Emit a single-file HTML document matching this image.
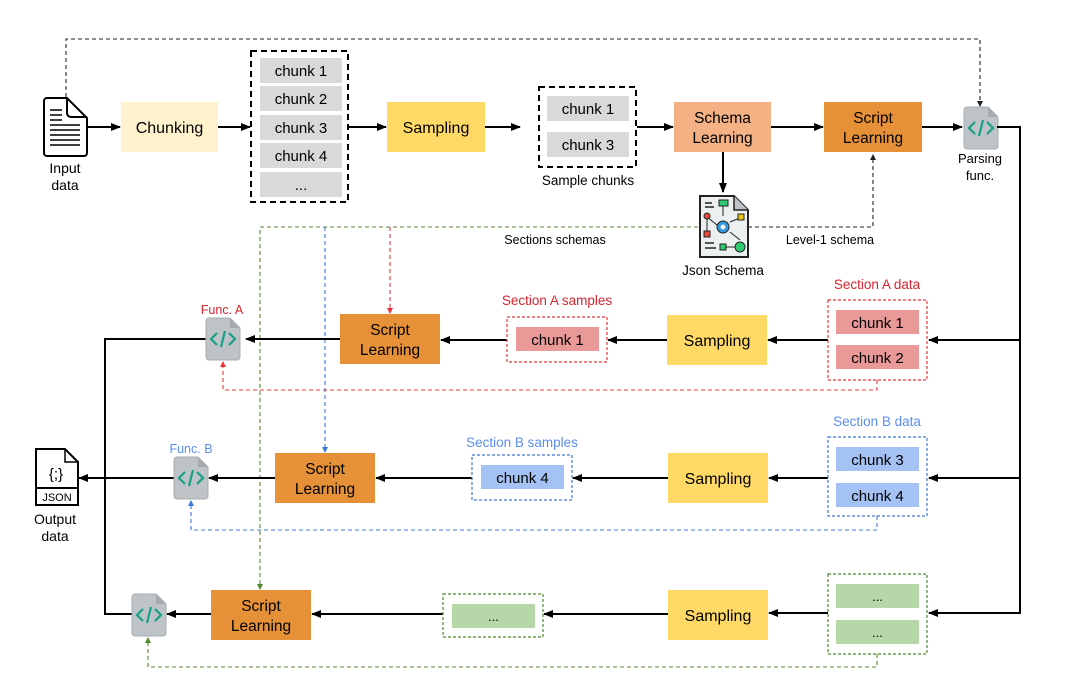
<!DOCTYPE html>
<html><head><meta charset="utf-8"><style>
html,body{margin:0;padding:0;background:#fff}
svg{display:block}
text{font-family:"Liberation Sans",Arial,sans-serif}
</style></head><body>
<svg width="1076" height="699" viewBox="0 0 1076 699" xmlns="http://www.w3.org/2000/svg">
<defs>
<marker id="ab" markerWidth="10" markerHeight="8" refX="9" refY="4" orient="auto" markerUnits="userSpaceOnUse"><path d="M0,0 L10,4 L0,8 Z" fill="#000"/></marker>
<marker id="as" markerWidth="6" markerHeight="6" refX="5" refY="3" orient="auto" markerUnits="userSpaceOnUse"><path d="M0,0 L6,3 L0,6 Z" fill="#222"/></marker>
<marker id="ar" markerWidth="6" markerHeight="6" refX="5" refY="3" orient="auto" markerUnits="userSpaceOnUse"><path d="M0,0 L6,3 L0,6 Z" fill="#E8383D"/></marker>
<marker id="abl" markerWidth="6" markerHeight="6" refX="5" refY="3" orient="auto" markerUnits="userSpaceOnUse"><path d="M0,0 L6,3 L0,6 Z" fill="#3C78D8"/></marker>
<marker id="ag" markerWidth="6" markerHeight="6" refX="5" refY="3" orient="auto" markerUnits="userSpaceOnUse"><path d="M0,0 L6,3 L0,6 Z" fill="#4E8A2E"/></marker>
<g id="code">
<path d="M3,0 H24 L34,10 V39 a3,3 0 0 1 -3,3 H3 a3,3 0 0 1 -3,-3 V3 a3,3 0 0 1 3,-3 Z" fill="#BDC3C7" stroke="#A8AEB2" stroke-width="1"/>
<path d="M24,0 V10 H34 Z" fill="#A5ABAF"/>
<path d="M11,15 L5,21 L11,27 M23,15 L29,21 L23,27 M19,13 L15,29" stroke="#16A085" stroke-width="2.2" fill="none"/>
</g>
</defs>

<path d="M66,97 V39 H980 V106" fill="none" stroke="#222" stroke-width="1.1" stroke-dasharray="4,3" marker-end="url(#as)"/>

<path d="M47,98 H67 L87,118 V153 a3,3 0 0 1 -3,3 H47 a3,3 0 0 1 -3,-3 V101 a3,3 0 0 1 3,-3 Z" fill="#fff" stroke="#000" stroke-width="2"/>
<path d="M67,98 V113 a4,4 0 0 0 4,4 H87" fill="none" stroke="#000" stroke-width="2"/>
<g stroke="#000" stroke-width="1.5"><line x1="50" y1="110" x2="62" y2="110"/><line x1="50" y1="115" x2="62" y2="115"/><line x1="50" y1="120" x2="62" y2="120"/><line x1="50" y1="125" x2="80" y2="125"/><line x1="50" y1="130" x2="80" y2="130"/><line x1="50" y1="135" x2="80" y2="135"/><line x1="50" y1="140" x2="80" y2="140"/><line x1="50" y1="145" x2="80" y2="145"/></g>
<text x="65" y="173" font-size="14" text-anchor="middle">Input</text>
<text x="65" y="190" font-size="14" text-anchor="middle">data</text>

<g stroke="#000" stroke-width="2" fill="none">
<line x1="88" y1="127" x2="120" y2="127" marker-end="url(#ab)"/>
<line x1="218" y1="127" x2="250" y2="127" marker-end="url(#ab)"/>
<line x1="348" y1="127" x2="386" y2="127" marker-end="url(#ab)"/>
<line x1="485" y1="127" x2="520" y2="127" marker-end="url(#ab)"/>
<line x1="637" y1="127" x2="673" y2="127" marker-end="url(#ab)"/>
<line x1="771" y1="127" x2="823" y2="127" marker-end="url(#ab)"/>
<line x1="922" y1="127" x2="962" y2="127" marker-end="url(#ab)"/>
<line x1="723" y1="152" x2="723" y2="192" marker-end="url(#ab)"/>
</g>

<rect x="121" y="102" width="97" height="50" fill="#FFF2CC"/>
<text x="169.5" y="133" font-size="16" text-anchor="middle">Chunking</text>

<rect x="251" y="51" width="97" height="151" fill="none" stroke="#000" stroke-width="2" stroke-dasharray="6,4"/>
<g fill="#D9D9D9"><rect x="260" y="58" width="82" height="25"/><rect x="260" y="86" width="82" height="25"/><rect x="260" y="115" width="82" height="25"/><rect x="260" y="143" width="82" height="25"/><rect x="260" y="172" width="82" height="25"/></g>
<g font-size="15" text-anchor="middle"><text x="301" y="76">chunk 1</text><text x="301" y="104">chunk 2</text><text x="301" y="133">chunk 3</text><text x="301" y="161">chunk 4</text><text x="301" y="190">...</text></g>

<rect x="387" y="102" width="98" height="50" fill="#FFD966"/>
<text x="436" y="133" font-size="16" text-anchor="middle">Sampling</text>

<rect x="539" y="87" width="97" height="80" fill="none" stroke="#000" stroke-width="2" stroke-dasharray="6,4"/>
<rect x="547" y="96" width="82" height="25" fill="#D9D9D9"/><rect x="547" y="132" width="82" height="25" fill="#D9D9D9"/>
<text x="588" y="114" font-size="15" text-anchor="middle">chunk 1</text><text x="588" y="150" font-size="15" text-anchor="middle">chunk 3</text>
<text x="588" y="185" font-size="13.5" text-anchor="middle">Sample chunks</text>

<rect x="674" y="102" width="97" height="50" fill="#F4B183"/>
<text x="722.5" y="123" font-size="15.5" text-anchor="middle">Schema</text><text x="722.5" y="143" font-size="15.5" text-anchor="middle">Learning</text>
<rect x="824" y="102" width="98" height="50" fill="#E69138"/>
<text x="873" y="123" font-size="15.5" text-anchor="middle">Script</text><text x="873" y="143" font-size="15.5" text-anchor="middle">Learning</text>

<use href="#code" x="964" y="107"/>
<text x="980" y="163" font-size="13" text-anchor="middle">Parsing</text><text x="980" y="180" font-size="13" text-anchor="middle">func.</text>

<path d="M748,227 H873 V155" fill="none" stroke="#222" stroke-width="1.1" stroke-dasharray="4,3" marker-end="url(#as)"/>
<text x="830" y="244" font-size="12.5" text-anchor="middle">Level-1 schema</text>
<path d="M698,227 H260 V589" fill="none" stroke="#4E8A2E" stroke-width="1.1" stroke-dasharray="4,3" marker-end="url(#ag)"/>
<path d="M325,227 V452" fill="none" stroke="#3C78D8" stroke-width="1.1" stroke-dasharray="4,3" marker-end="url(#abl)"/>
<path d="M390,227 V313" fill="none" stroke="#E8383D" stroke-width="1.1" stroke-dasharray="4,3" marker-end="url(#ar)"/>
<text x="555" y="244" font-size="12.5" text-anchor="middle">Sections schemas</text>

<g>
<path d="M700,196 H734 L748,210 V257 H700 Z" fill="#ECF0F1" stroke="#222" stroke-width="2"/>
<path d="M734,196 V210 H748" fill="#BDC3C7" stroke="#222" stroke-width="1.5"/>
<line x1="705" y1="203" x2="712" y2="203" stroke="#222" stroke-width="1.5"/><line x1="705" y1="207" x2="714" y2="207" stroke="#222" stroke-width="1.5"/>
<rect x="719" y="200" width="9" height="6" fill="#2ECC71" stroke="#222" stroke-width="1"/>
<line x1="723" y1="206" x2="723" y2="216" stroke="#222"/>
<line x1="707" y1="217" x2="717" y2="225" stroke="#222"/><line x1="707" y1="217" x2="707" y2="232" stroke="#222"/>
<line x1="730" y1="222" x2="740" y2="218" stroke="#222"/><line x1="730" y1="232" x2="740" y2="240" stroke="#222"/>
<circle cx="707" cy="216" r="3" fill="#E74C3C" stroke="#222"/>
<rect x="704" y="231" width="6" height="6" fill="#E74C3C" stroke="#222"/>
<rect x="738" y="214" width="6" height="6" fill="#F1C40F" stroke="#222"/>
<circle cx="723" cy="227" r="6" fill="#3498DB" stroke="#222"/><circle cx="723" cy="227" r="2.5" fill="#ECF0F1"/>
<line x1="705" y1="243" x2="714" y2="243" stroke="#222" stroke-width="1.5"/><line x1="705" y1="248" x2="716" y2="248" stroke="#222" stroke-width="1.5"/>
<rect x="720" y="244" width="6" height="6" fill="#2ECC71" stroke="#222"/><line x1="726" y1="247" x2="736" y2="247" stroke="#222"/>
<circle cx="740" cy="247" r="5" fill="#2ECC71" stroke="#222"/>
</g>
<text x="723" y="275" font-size="13.5" text-anchor="middle">Json Schema</text>

<path d="M997,127 H1020 V614" fill="none" stroke="#000" stroke-width="2"/>
<g stroke="#000" stroke-width="2" fill="none">
<line x1="1020" y1="340" x2="929" y2="340" marker-end="url(#ab)"/>
<line x1="1020" y1="478" x2="929" y2="478" marker-end="url(#ab)"/>
<line x1="1020" y1="613" x2="929" y2="613" marker-end="url(#ab)"/>
<line x1="828" y1="340" x2="768" y2="340" marker-end="url(#ab)"/>
<line x1="828" y1="478" x2="769" y2="478" marker-end="url(#ab)"/>
<line x1="828" y1="613" x2="769" y2="613" marker-end="url(#ab)"/>
<line x1="667" y1="340" x2="608" y2="340" marker-end="url(#ab)"/>
<line x1="668" y1="478" x2="573" y2="478" marker-end="url(#ab)"/>
<line x1="668" y1="614" x2="544" y2="614" marker-end="url(#ab)"/>
<line x1="507" y1="340" x2="441" y2="340" marker-end="url(#ab)"/>
<line x1="472" y1="478" x2="376" y2="478" marker-end="url(#ab)"/>
<line x1="443" y1="614" x2="312" y2="614" marker-end="url(#ab)"/>
<line x1="340" y1="339" x2="246" y2="339" marker-end="url(#ab)"/>
<line x1="275" y1="478" x2="209" y2="478" marker-end="url(#ab)"/>
<line x1="211" y1="614" x2="167" y2="614" marker-end="url(#ab)"/>
<path d="M206,339 H105 V614 H132"/>
<line x1="174" y1="478" x2="79" y2="478" marker-end="url(#ab)"/>
</g>

<text x="877" y="289" font-size="13.5" text-anchor="middle" fill="#D9232D">Section A data</text>
<rect x="828" y="300" width="99" height="80" fill="none" stroke="#E8383D" stroke-width="1.2" stroke-dasharray="3,2"/>
<rect x="836" y="310" width="83" height="24" fill="#EA9999"/><rect x="836" y="345" width="83" height="24" fill="#EA9999"/>
<text x="877.5" y="328" font-size="15" text-anchor="middle">chunk 1</text><text x="877.5" y="363" font-size="15" text-anchor="middle">chunk 2</text>
<rect x="667" y="315" width="100" height="50" fill="#FFD966"/>
<text x="717" y="346" font-size="16" text-anchor="middle">Sampling</text>
<text x="557" y="305" font-size="13.5" text-anchor="middle" fill="#D9232D">Section A samples</text>
<rect x="507" y="317" width="100" height="45" fill="none" stroke="#E8383D" stroke-width="1.2" stroke-dasharray="3,2"/>
<rect x="516" y="327" width="83" height="24" fill="#EA9999"/>
<text x="557.5" y="345" font-size="15" text-anchor="middle">chunk 1</text>
<rect x="340" y="314" width="100" height="50" fill="#E69138"/>
<text x="390" y="335" font-size="15.5" text-anchor="middle">Script</text><text x="390" y="355" font-size="15.5" text-anchor="middle">Learning</text>
<use href="#code" x="206" y="318"/>
<text x="222" y="314" font-size="12.5" text-anchor="middle" fill="#D9232D">Func. A</text>
<path d="M877,380 V390 H223 V362" fill="none" stroke="#E8383D" stroke-width="1.1" stroke-dasharray="4,3" marker-end="url(#ar)"/>

<text x="877" y="426" font-size="13.5" text-anchor="middle" fill="#5B8DEF">Section B data</text>
<rect x="828" y="437" width="99" height="79" fill="none" stroke="#3C78D8" stroke-width="1.2" stroke-dasharray="3,2"/>
<rect x="836" y="447" width="83" height="24" fill="#A4C2F4"/><rect x="836" y="483" width="83" height="24" fill="#A4C2F4"/>
<text x="877.5" y="465" font-size="15" text-anchor="middle">chunk 3</text><text x="877.5" y="501" font-size="15" text-anchor="middle">chunk 4</text>
<rect x="668" y="453" width="100" height="50" fill="#FFD966"/>
<text x="718" y="484" font-size="16" text-anchor="middle">Sampling</text>
<text x="522" y="447" font-size="13.5" text-anchor="middle" fill="#5B8DEF">Section B samples</text>
<rect x="472" y="455" width="100" height="45" fill="none" stroke="#3C78D8" stroke-width="1.2" stroke-dasharray="3,2"/>
<rect x="481" y="465" width="83" height="24" fill="#A4C2F4"/>
<text x="522.5" y="483" font-size="15" text-anchor="middle">chunk 4</text>
<rect x="275" y="453" width="100" height="50" fill="#E69138"/>
<text x="325" y="474" font-size="15.5" text-anchor="middle">Script</text><text x="325" y="494" font-size="15.5" text-anchor="middle">Learning</text>
<use href="#code" x="174" y="457"/>
<text x="191" y="453" font-size="12.5" text-anchor="middle" fill="#5B8DEF">Func. B</text>
<path d="M877,516 V530 H191 V501" fill="none" stroke="#3C78D8" stroke-width="1.1" stroke-dasharray="4,3" marker-end="url(#abl)"/>

<rect x="828" y="574" width="99" height="80" fill="none" stroke="#4E8A2E" stroke-width="1.2" stroke-dasharray="3,2"/>
<rect x="836" y="584" width="83" height="24" fill="#B6D7A8"/><rect x="836" y="620" width="83" height="24" fill="#B6D7A8"/>
<text x="877.5" y="601" font-size="13" text-anchor="middle">...</text><text x="877.5" y="637" font-size="13" text-anchor="middle">...</text>
<rect x="668" y="590" width="100" height="50" fill="#FFD966"/>
<text x="718" y="621" font-size="16" text-anchor="middle">Sampling</text>
<rect x="443" y="594" width="100" height="43" fill="none" stroke="#4E8A2E" stroke-width="1.2" stroke-dasharray="3,2"/>
<rect x="452" y="604" width="83" height="24" fill="#B6D7A8"/>
<text x="493.5" y="621" font-size="13" text-anchor="middle">...</text>
<rect x="211" y="590" width="100" height="50" fill="#E69138"/>
<text x="261" y="611" font-size="15.5" text-anchor="middle">Script</text><text x="261" y="631" font-size="15.5" text-anchor="middle">Learning</text>
<use href="#code" x="132" y="594"/>
<path d="M877,654 V667 H148 V638" fill="none" stroke="#4E8A2E" stroke-width="1.1" stroke-dasharray="4,3" marker-end="url(#ag)"/>

<path d="M36,449 H65 L78,462 V505 H36 Z" fill="#fff" stroke="#000" stroke-width="2"/>
<path d="M65,449 V462 H78" fill="none" stroke="#000" stroke-width="1.5"/>
<line x1="36" y1="488" x2="78" y2="488" stroke="#000" stroke-width="2"/>
<text x="56" y="479" font-size="15" text-anchor="middle" font-family="Liberation Mono">{;}</text>
<text x="57" y="501" font-size="11" text-anchor="middle">JSON</text>
<text x="55" y="524" font-size="14" text-anchor="middle">Output</text><text x="55" y="541" font-size="14" text-anchor="middle">data</text>
</svg>
</body></html>
